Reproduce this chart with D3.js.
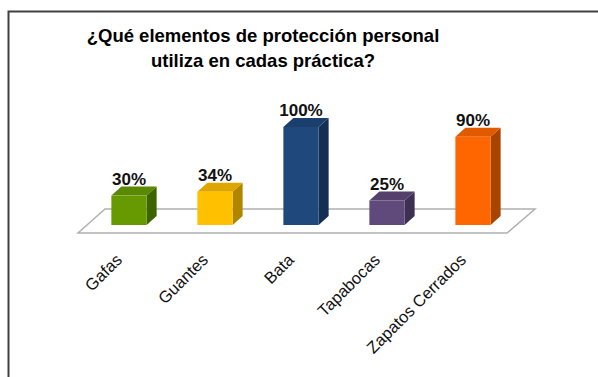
<!DOCTYPE html>
<html><head><meta charset="utf-8">
<script src="https://cdn.jsdelivr.net/npm/d3@7"></script>
<style>body{margin:0;background:#fff}svg{display:block}</style>
</head><body>
<script>
const categories = ["Gafas","Guantes","Bata","Tapabocas","Zapatos Cerrados"];
const values = [0.30, 0.34, 1.00, 0.25, 0.90];
const valueLabels = ["30%","34%","100%","25%","90%"];
const titleLines = ["¿Qué elementos de protección personal","utiliza en cadas práctica?"];
const frontColors = ["#669a00","#ffc000","#1f497d","#604a7b","#ff6600"];
const topColors   = ["#5a8900","#dfa600","#1b3f6c","#54406b","#e05a00"];
const sideColors  = ["#3e6400","#b08500","#152f52","#3e3052","#a84400"];

const W=598,H=377;
const svg=d3.select("body").append("svg").attr("width",W).attr("height",H);

// frame
svg.append("path").attr("d",`M8.5,${H} L8.5,11.5 L${W},11.5`).attr("fill","none").attr("stroke","#404040").attr("stroke-width",2);

// title
svg.append("text").attr("x",263).attr("y",42).attr("text-anchor","middle")
  .attr("font-family","Liberation Sans, Arial, sans-serif").attr("font-weight","bold").attr("font-size",18.5).attr("fill","#000")
  .selectAll("tspan").data(titleLines).join("tspan").attr("x",263).attr("dy",(d,i)=>i?25:0).text(d=>d);

const x=d3.scaleBand().domain(categories).range([86,516]).paddingInner(0.59).paddingOuter(0.295);
const y=d3.scaleLinear().domain([0,1]).range([225,127]);
const dx=10, dy=9;

// floor
const fl=[[78,233],[507,233],[535,209],[105,209]];
svg.append("path").attr("d","M"+fl.join("L")+"Z").attr("fill","#fff").attr("stroke","#b0b0b0").attr("stroke-width",1.5);

const data=categories.map((c,i)=>({c,v:values[i],i}));
const g=svg.selectAll("g.bar").data(data).join("g").attr("class","bar");
g.append("path").attr("fill",d=>sideColors[d.i]).attr("d",d=>{
  const x1=x(d.c)+x.bandwidth(),y0=y(0),y1=y(d.v);
  return `M${x1},${y0}L${x1+dx},${y0-dy}L${x1+dx},${y1-dy}L${x1},${y1}Z`;});
g.append("path").attr("fill",d=>topColors[d.i]).attr("d",d=>{
  const x0=x(d.c),x1=x0+x.bandwidth(),y1=y(d.v);
  return `M${x0},${y1}L${x0+dx},${y1-dy}L${x1+dx},${y1-dy}L${x1},${y1}Z`;});
g.append("rect").attr("fill",d=>frontColors[d.i]).attr("x",d=>x(d.c)).attr("width",x.bandwidth())
  .attr("y",d=>y(d.v)).attr("height",d=>y(0)-y(d.v));
g.append("text").attr("x",d=>x(d.c)+x.bandwidth()/2).attr("y",d=>y(d.v)-dy-2).attr("text-anchor","middle")
  .attr("font-family","Liberation Sans, Arial, sans-serif").attr("font-weight","bold").attr("font-size",17).attr("fill","#111")
  .text(d=>valueLabels[d.i]);

// category labels
svg.selectAll("text.cat").data(categories).join("text").attr("class","cat")
  .attr("transform",d=>`translate(${x(d)+x.bandwidth()/2-6},261) rotate(-45)`)
  .attr("text-anchor","end").attr("font-family","Liberation Sans, Arial, sans-serif").attr("font-size",16.5).attr("fill","#111")
  .text(d=>d);
</script>
</body></html>
